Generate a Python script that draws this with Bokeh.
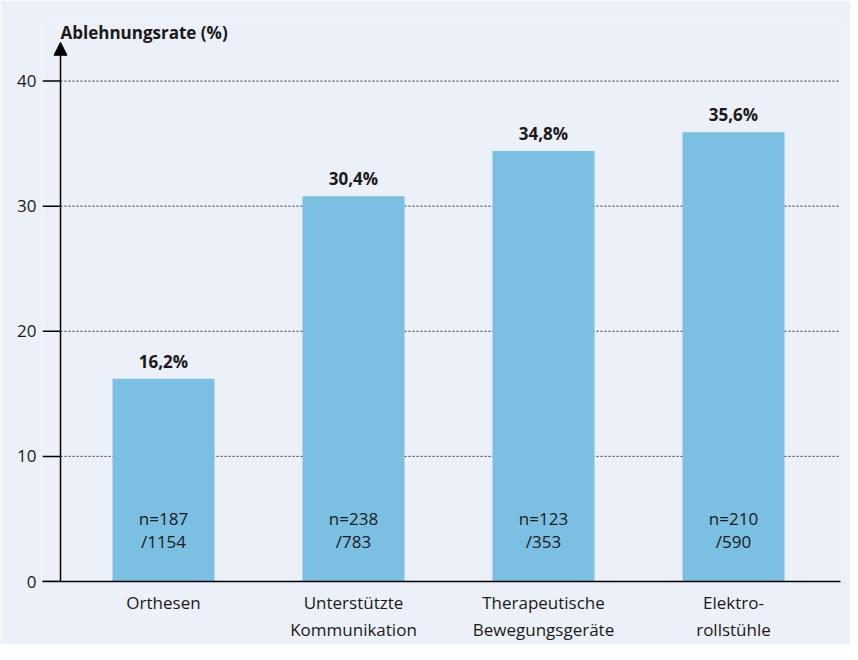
from bokeh.plotting import figure
from bokeh.models import Range1d, FixedTicker, Arrow, NormalHead
from bokeh.core.properties import value
from bokeh.embed import file_html
from bokeh.resources import INLINE

# ---- data ----
categories = ["Orthesen", "Unterstützte\nKommunikation", "Therapeutische\nBewegungsgeräte", "Elektro-\nrollstühle"]
bar_values = [16.2, 30.8, 34.4, 35.9]
value_labels = ["16,2%", "30,4%", "34,8%", "35,6%"]
n_rejected = [187, 238, 123, 210]
n_total = [1154, 783, 353, 590]
y_ticks = [0, 10, 20, 30, 40]
grid_ticks = [10, 20, 30, 40]
y_title = "Ablehnungsrate (%)"

PANEL = "#ECF0F9"
BAR = "#7BBFE3"
INK = "#1a1a1a"
FONT = "Open Sans"
FS = "17px"

x_pos = list(range(len(categories)))
x0, x1 = -0.6368, 3.5632
x_axis = -0.542
y0, y1 = 0, 44.84

p = figure(width=850, height=644, x_range=Range1d(x0, x1), y_range=Range1d(y0, y1),
           output_backend="svg", toolbar_location=None,
           min_border_left=42, min_border_right=10, min_border_top=20, min_border_bottom=59)
p.background_fill_color = PANEL
p.border_fill_color = PANEL
p.outline_line_color = None

# grid
p.xgrid.visible = False
p.ygrid.visible = False
p.segment(x0=[x_axis] * len(grid_ticks), y0=grid_ticks, x1=[x1] * len(grid_ticks), y1=grid_ticks,
          line_color="#333333", line_dash="2 2", line_width=1)

# x axis
p.xaxis.ticker = FixedTicker(ticks=x_pos)
p.xaxis.major_label_overrides = {i: c for i, c in zip(x_pos, categories)}
p.xaxis.major_tick_out = 0
p.xaxis.major_tick_in = 0
p.xaxis.minor_tick_out = 0
p.xaxis.minor_tick_in = 0
p.xaxis.axis_line_color = "black"
p.xaxis.axis_line_width = 1.5
p.xaxis.major_label_standoff = 9
p.xaxis.major_label_text_font = FONT
p.xaxis.major_label_text_font_size = FS
p.xaxis.major_label_text_color = INK

# y axis (labels only; ticks drawn as segments)
p.yaxis.ticker = FixedTicker(ticks=y_ticks)
p.yaxis.axis_line_color = None
p.yaxis.major_tick_line_color = None
p.yaxis.major_tick_out = 0
p.yaxis.major_tick_in = 0
p.yaxis.minor_tick_out = 0
p.yaxis.minor_tick_in = 0
p.yaxis.major_label_standoff = 6
p.yaxis.major_label_text_font = FONT
p.yaxis.major_label_text_font_size = FS
p.yaxis.major_label_text_color = INK

# bars
p.vbar(x=x_pos, top=bar_values, width=0.537, fill_color=BAR, line_color=None)

# tick marks
p.segment(x0=[x0] * len(y_ticks), y0=y_ticks, x1=[x_axis] * len(y_ticks), y1=y_ticks,
          line_color="black", line_width=1.5)

# value labels above bars
p.text(x=x_pos, y=bar_values, text=value_labels, text_align="center", text_baseline="bottom",
       y_offset=-6, text_font=value(FONT), text_font_size=value(FS), text_font_style="bold",
       text_color=INK)

# n labels inside bars
line1 = ["n=%d" % n for n in n_rejected]
line2 = ["/%d" % t for t in n_total]
p.text(x=x_pos, y=[5.0] * len(x_pos), text=line1, text_align="center", text_baseline="middle",
       text_font=value(FONT), text_font_size=value(FS), text_color=INK)
p.text(x=x_pos, y=[3.17] * len(x_pos), text=line2, text_align="center", text_baseline="middle",
       text_font=value(FONT), text_font_size=value(FS), text_color=INK)

# y axis arrow
p.add_layout(Arrow(end=NormalHead(size=13, fill_color="black", line_color="black", line_width=1),
                   x_start=x_axis, y_start=0, x_end=x_axis, y_end=43.1,
                   line_color="black", line_width=1.5))

# y axis title
p.text(x=[x_axis], y=[43.9], text=[y_title], text_align="left", text_baseline="middle",
       text_font=value(FONT), text_font_size=value(FS), text_font_style="bold", text_color=INK)

open("out.html", "w").write(file_html(p, INLINE))
